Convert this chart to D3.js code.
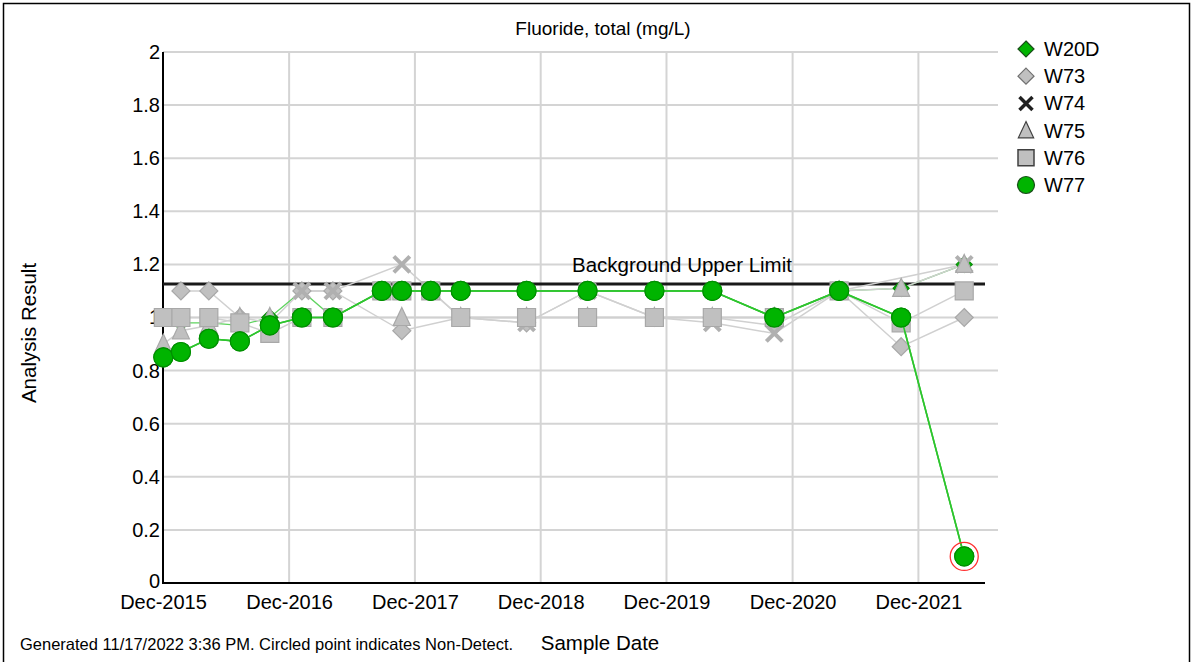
<!DOCTYPE html>
<html><head><meta charset="utf-8">
<script src="https://cdn.jsdelivr.net/npm/d3@7"></script>
<style>
html,body{margin:0;padding:0;background:#fff;}
svg{display:block;font-family:"Liberation Sans",Arial,sans-serif;}
</style></head>
<body><svg id="c" width="1193" height="662"></svg>
<script>
const sampleDates = ["2015-12-02","2016-01-22","2016-04-12","2016-07-11","2016-10-06","2017-01-07","2017-04-07","2017-08-27","2017-10-24","2018-01-16","2018-04-13","2018-10-21","2019-04-16","2019-10-27","2020-04-12","2020-10-09","2021-04-15","2021-10-12","2022-04-13"];
const W20D = [null,0.98,0.98,0.97,1.0,1.1,1.0,1.1,1.1,1.1,1.1,1.1,1.1,1.1,1.1,1.0,1.1,1.11,1.2];
const W73  = [null,1.1,1.1,1.0,0.98,1.1,1.1,null,0.95,null,1.0,0.98,1.1,1.0,1.0,0.97,1.1,0.89,1.0];
const W74  = [null,null,null,null,null,1.1,1.1,null,1.2,null,1.0,0.98,1.1,1.0,0.98,0.94,1.1,null,1.2];
const W75  = [0.9,0.95,0.97,1.0,1.0,null,null,null,1.0,null,1.0,1.0,1.0,1.0,1.0,1.0,1.1,1.11,1.2];
const W76  = [1.0,1.0,1.0,0.98,0.94,1.0,1.0,1.1,1.1,1.1,1.0,1.0,1.0,1.0,1.0,1.0,1.1,0.98,1.1];
const W77  = [0.85,0.87,0.92,0.91,0.97,1.0,1.0,1.1,1.1,1.1,1.1,1.1,1.1,1.1,1.1,1.0,1.1,1.0,0.1];
const W77nonDetect = [false,false,false,false,false,false,false,false,false,false,false,false,false,false,false,false,false,false,true];
const seriesNames = ["W20D","W73","W74","W75","W76","W77"];
const yTicks = [0,0.2,0.4,0.6,0.8,1,1.2,1.4,1.6,1.8,2];
const xTickDates = ["2015-12-01","2016-12-01","2017-12-01","2018-12-01","2019-12-01","2020-12-01","2021-12-01"];
const backgroundUpperLimit = 1.126;
const chartTitle = "Fluoride, total (mg/L)";
const yLabel = "Analysis Result";
const xLabel = "Sample Date";
const footer = "Generated 11/17/2022 3:36 PM. Circled point indicates Non-Detect.";

const svg = d3.select("#c");
const L=163, R=998, T=52, B=583;
const parse = d3.timeParse("%Y-%m-%d");
const x = d3.scaleTime().domain([parse("2015-12-01"), parse("2022-07-20")]).range([L,R]);
const y = d3.scaleLinear().domain([0,2]).range([B,T]);
const fmt = d3.timeFormat("%b-%Y");

// frame
svg.append("rect").attr("x",3.5).attr("y",3.5).attr("width",1186).attr("height",680)
  .attr("fill","none").attr("stroke","#000").attr("stroke-width",1.5);

// gridlines
svg.append("g").selectAll("line").data(yTicks.slice(1)).join("line")
  .attr("x1",L).attr("x2",R).attr("y1",d=>y(d)).attr("y2",d=>y(d))
  .attr("stroke","#d4d4d4").attr("stroke-width",2);
svg.append("g").selectAll("line").data(xTickDates.slice(1)).join("line")
  .attr("x1",d=>x(parse(d))).attr("x2",d=>x(parse(d))).attr("y1",T).attr("y2",B)
  .attr("stroke","#d4d4d4").attr("stroke-width",2);

// axes
const yAxis = svg.append("g").attr("transform",`translate(${L},0)`)
  .call(d3.axisLeft(y).tickValues(yTicks).tickSize(0).tickPadding(3).tickFormat(d=>d3.format("")(+d.toFixed(1))));
yAxis.select(".domain").remove();
yAxis.selectAll("text").attr("font-size",20).attr("fill","#000").attr("font-family","Liberation Sans, Arial");
yAxis.selectAll("text").filter(d=>d===0).attr("dy","0.2em");
const xAxis = svg.append("g").attr("transform",`translate(0,${B})`)
  .call(d3.axisBottom(x).tickValues(xTickDates.map(parse)).tickSize(0).tickPadding(12).tickFormat(fmt));
xAxis.select(".domain").remove();
xAxis.selectAll("text").attr("font-size",20).attr("fill","#000").attr("font-family","Liberation Sans, Arial");
svg.append("line").attr("x1",L).attr("x2",L).attr("y1",T).attr("y2",B+1).attr("stroke","#000").attr("stroke-width",2);
svg.append("line").attr("x1",L).attr("x2",985).attr("y1",B).attr("y2",B).attr("stroke","#000").attr("stroke-width",2);

// background limit
svg.append("line").attr("x1",L).attr("x2",985).attr("y1",y(backgroundUpperLimit)).attr("y2",y(backgroundUpperLimit))
  .attr("stroke","#1a1a1a").attr("stroke-width",3);
svg.append("text").attr("x",682).attr("y",y(backgroundUpperLimit)-12).attr("text-anchor","middle")
  .attr("font-size",20.5).text("Background Upper Limit");

// marker shapes
function shape(type, cx, cy, s){
  const p = d3.path();
  if(type==="diamond"){p.moveTo(cx,cy-s);p.lineTo(cx+s,cy);p.lineTo(cx,cy+s);p.lineTo(cx-s,cy);p.closePath();}
  else if(type==="square"){p.rect(cx-s,cy-s,2*s,2*s);}
  else if(type==="triangle"){p.moveTo(cx,cy-s);p.lineTo(cx+s*0.85,cy+s*0.8);p.lineTo(cx-s*0.85,cy+s*0.8);p.closePath();}
  else if(type==="x"){p.moveTo(cx-s,cy-s);p.lineTo(cx+s,cy+s);p.moveTo(cx+s,cy-s);p.lineTo(cx-s,cy+s);}
  else if(type==="circle"){p.arc(cx,cy,s,0,2*Math.PI);}
  return p.toString();
}

const dates = sampleDates.map(parse);
const mk = (vals)=>dates.map((d,i)=>({d, v:vals[i], i})).filter(o=>o.v!=null);
const line = d3.line().x(o=>x(o.d)).y(o=>y(o.v));

const series = [
  {name:"W20D", vals:W20D, type:"diamond", lineCol:"#5fd35f", lw:1.3, fill:"#00b400", stroke:"#0a8a0a", s:8},
  {name:"W73", vals:W73, type:"diamond", lineCol:"#d0d0d0", lw:1.5, fill:"#c0c0c0", stroke:"#a8a8a8", s:9},
  {name:"W74", vals:W74, type:"x", lineCol:"#d0d0d0", lw:1.5, fill:"none", stroke:"#b0b0b0", s:8},
  {name:"W75", vals:W75, type:"triangle", lineCol:"#d0d0d0", lw:1.5, fill:"#c0c0c0", stroke:"#a8a8a8", s:10},
  {name:"W76", vals:W76, type:"square", lineCol:"#d0d0d0", lw:1.5, fill:"#c0c0c0", stroke:"#a8a8a8", s:9},
  {name:"W77", vals:W77, type:"circle", lineCol:"#2ec52e", lw:1.6, fill:"#00b400", stroke:"#009000", s:9.5}
];

const gLines = svg.append("g"), gMarks = svg.append("g");
series.forEach(sr=>{
  const pts = mk(sr.vals);
  gLines.append("path").attr("d",line(pts)).attr("fill","none").attr("stroke",sr.lineCol).attr("stroke-width",sr.lw);
});
series.forEach(sr=>{
  const pts = mk(sr.vals);
  const g = gMarks.append("g");
  g.selectAll("path").data(pts).join("path")
    .attr("d",o=>shape(sr.type,x(o.d),y(o.v),sr.s))
    .attr("fill",sr.fill).attr("stroke",sr.stroke)
    .attr("stroke-width",sr.type==="x"?4:1.2);
});
// W77 line re-drawn on top of gray markers
svg.append("path").attr("d",line(mk(W77))).attr("fill","none").attr("stroke","#2ec52e").attr("stroke-width",1.6);
svg.append("g").selectAll("path").data(mk(W77)).join("path")
  .attr("d",o=>shape("circle",x(o.d),y(o.v),9.5)).attr("fill","#00b400").attr("stroke","#009000").attr("stroke-width",1.2);
// non-detect circles
svg.append("g").selectAll("circle").data(mk(W77).filter(o=>W77nonDetect[o.i])).join("circle")
  .attr("cx",o=>x(o.d)).attr("cy",o=>y(o.v)).attr("r",14).attr("fill","none").attr("stroke","#ff3030").attr("stroke-width",1.3);

// legend
const leg = svg.append("g");
const legStyles = {
  W20D:{type:"diamond",fill:"#00b400",stroke:"#1a4d1a",s:8,sw:1.2},
  W73:{type:"diamond",fill:"#c0c0c0",stroke:"#707070",s:8,sw:1.2},
  W74:{type:"x",fill:"none",stroke:"#202020",s:6.5,sw:3.5},
  W75:{type:"triangle",fill:"#c0c0c0",stroke:"#404040",s:9,sw:1.2},
  W76:{type:"square",fill:"#c0c0c0",stroke:"#404040",s:8,sw:1.5},
  W77:{type:"circle",fill:"#00b400",stroke:"#1a4d1a",s:8.5,sw:1.2}
};
seriesNames.forEach((n,i)=>{
  const cy = 49 + i*27.2;
  const st = legStyles[n];
  leg.append("path").attr("d",shape(st.type,1026,cy,st.s)).attr("fill",st.fill).attr("stroke",st.stroke).attr("stroke-width",st.sw);
  leg.append("text").attr("x",1044).attr("y",cy+7).attr("font-size",20).text(n);
});

// titles
svg.append("text").attr("x",603).attr("y",35).attr("text-anchor","middle").attr("font-size",19).text(chartTitle);
svg.append("text").attr("transform","translate(36,333) rotate(-90)").attr("text-anchor","middle").attr("font-size",20.5).text(yLabel);
svg.append("text").attr("x",600).attr("y",650).attr("text-anchor","middle").attr("font-size",20.5).text(xLabel);
svg.append("text").attr("x",20).attr("y",650).attr("font-size",16.5).text(footer);
</script></body></html>
